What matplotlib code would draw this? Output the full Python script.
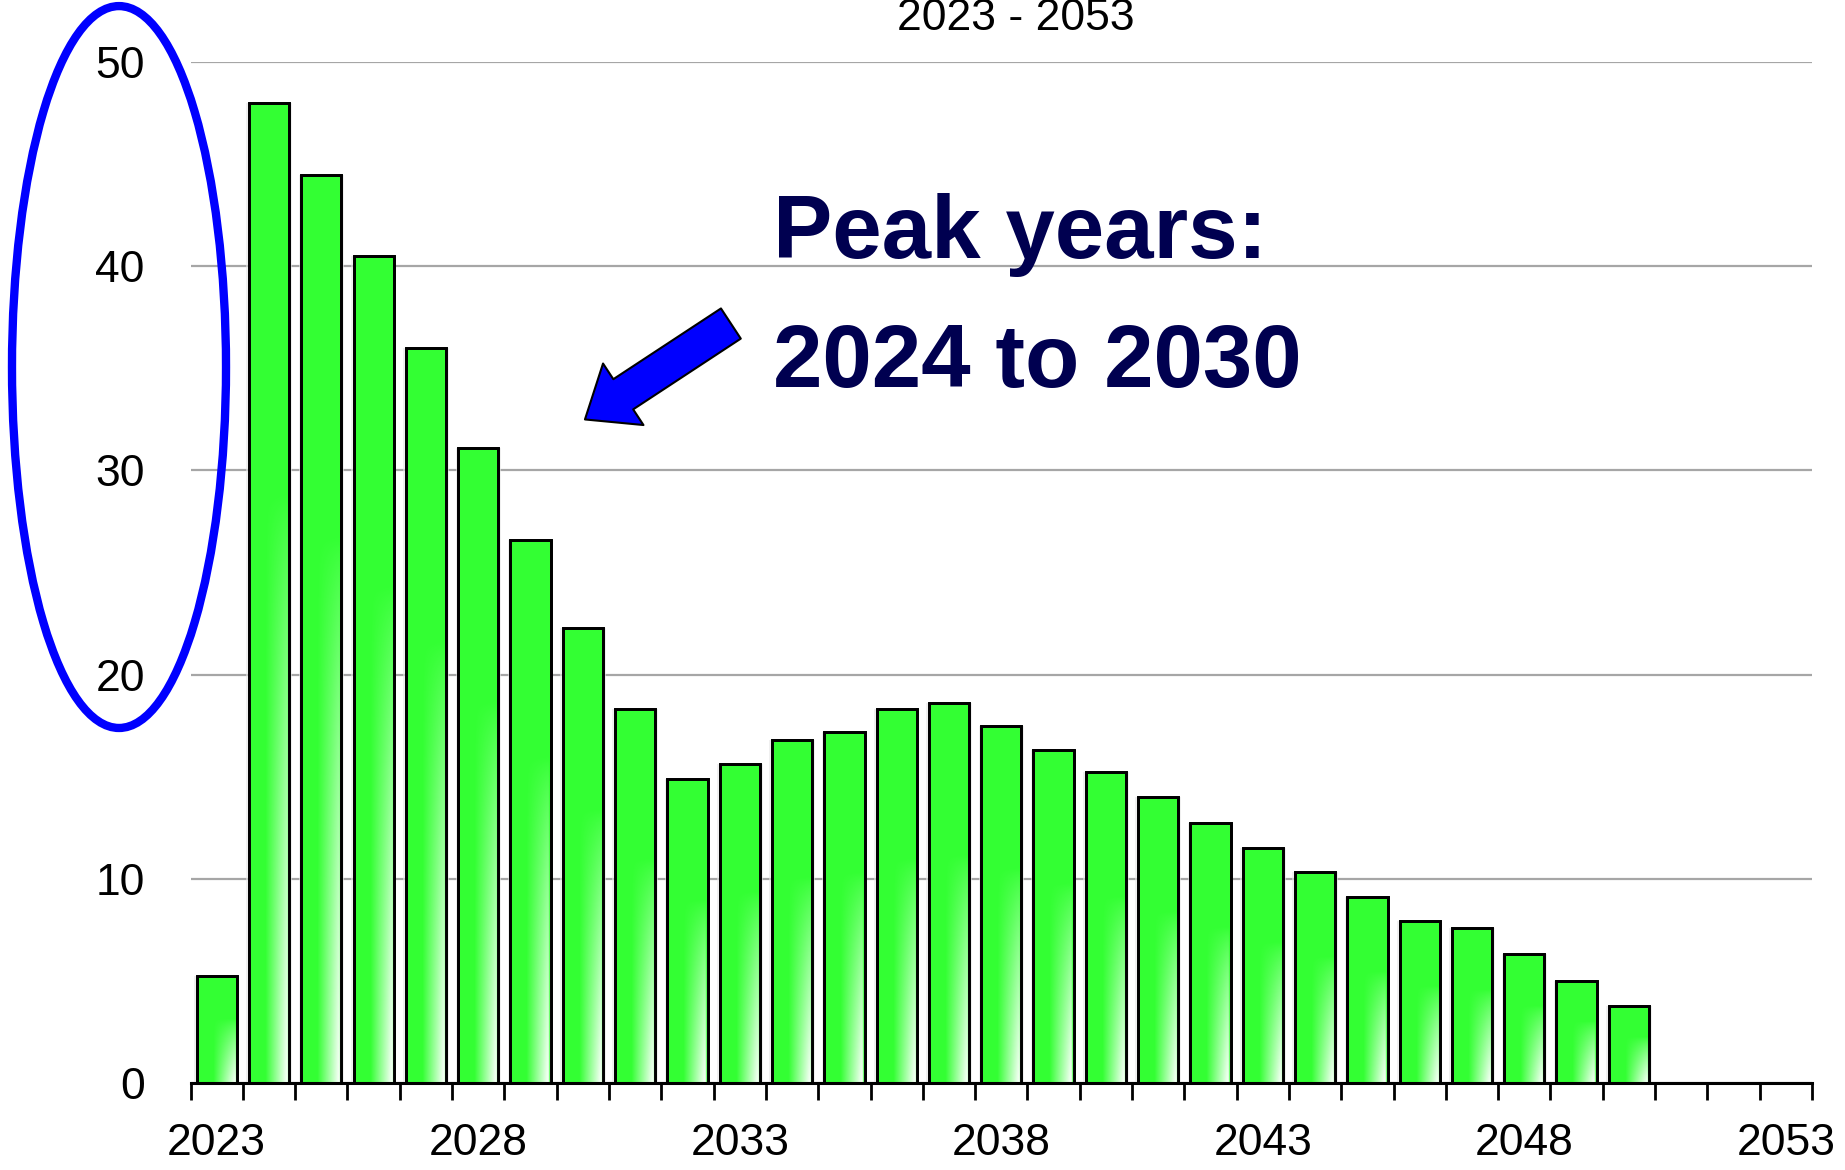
import numpy as np
import matplotlib
matplotlib.use("Agg")
import matplotlib.pyplot as plt
from matplotlib import patches

years = list(range(2023, 2054))
values = [5.2, 48.0, 44.5, 40.5, 36.0, 31.1, 26.6, 22.3, 18.3, 14.9,
          15.6, 16.8, 17.2, 18.3, 18.6, 17.5, 16.3, 15.2, 14.0, 12.7,
          11.5, 10.3, 9.1, 7.9, 7.6, 6.3, 5.0, 3.75, 0, 0, 0]
label_years = [2023, 2028, 2033, 2038, 2043, 2048, 2053]
y_ticks = [0, 10, 20, 30, 40, 50]
title_text = "2023 - 2053"
note_line1 = "Peak years:"
note_line2 = "2024 to 2030"

plt.rcParams['font.family'] = ['Liberation Sans', 'DejaVu Sans']

fig = plt.figure(figsize=(18.45, 11.7), dpi=100)
ax = fig.add_axes([0.1033, 0.0747, 0.8788, 0.872])

x = np.arange(len(years)) + 0.5
bw = 0.77

# soft shadow behind the bars
ax.bar(x, values, width=bw + 0.1, color='#e6e6e6', alpha=0.6, zorder=1, linewidth=0)
bars = ax.bar(x, values, width=bw, color='#33ff33', edgecolor='black', linewidth=2, zorder=3)

# white gradient in the lower right of each bar
nx, ny = 60, 120
xf = np.linspace(0, 1, nx)[None, :]
yf = np.linspace(1, 0, ny)[:, None]
alpha = np.clip((xf - 0.4) / 0.52, 0, 1) * np.clip((0.6 - yf) / 0.6, 0, 1) ** 0.8
alpha = np.where(xf > 0.96, alpha * 0.3, alpha)
grad = np.ones((ny, nx, 4))
grad[..., 3] = alpha * 0.95
for b in bars:
    h = b.get_height()
    if h <= 0:
        continue
    x0 = b.get_x()
    im = ax.imshow(grad, extent=[x0, x0 + b.get_width(), 0, h], aspect='auto',
                   zorder=3.5, interpolation='bilinear')
    im.set_clip_path(b)
    # outline again on top of the gradient
    ax.add_patch(patches.Rectangle((x0, 0), b.get_width(), h, fill=False,
                                   edgecolor='black', linewidth=2, zorder=4))

ax.set_xlim(0, len(years))
ax.set_ylim(0, 50)
ax.set_yticks(y_ticks)
ax.set_yticklabels([str(v) for v in y_ticks], fontsize=32)
ax.tick_params(axis='y', length=0, pad=33)
ax.yaxis.grid(True, color='#a6a6a6', linewidth=1.6, zorder=0)
ax.set_axisbelow(True)

ax.set_xticks(np.arange(len(years) + 1))
ax.set_xticklabels([])
ax.tick_params(axis='x', which='major', length=12, width=2, color='black', direction='out')
ax.set_xticks([years.index(y) + 0.5 for y in label_years], minor=True)
ax.set_xticklabels([str(y) for y in label_years], minor=True, fontsize=32)
ax.tick_params(axis='x', which='minor', length=0, pad=29)

for s in ['left', 'right', 'top']:
    ax.spines[s].set_visible(False)
ax.spines['bottom'].set_linewidth(2.2)
ax.spines['bottom'].set_zorder(5)

fig.text(0.5507, 0.9745, title_text, fontsize=32, ha='center', va='baseline')

ax.text(11.14, 40.4, note_line1, fontsize=64, fontweight='bold', color='#000050',
        ha='left', va='baseline', zorder=6)
ax.text(11.14, 34.1, note_line2, fontsize=64, fontweight='bold', color='#000050',
        ha='left', va='baseline', zorder=6)

ax.annotate('', xy=(7.54, 32.5), xytext=(10.33, 37.2),
            arrowprops=dict(arrowstyle='simple,head_length=33,head_width=53,tail_width=26',
                            mutation_scale=1, fc='#0000ff', ec='black', lw=1.5,
                            shrinkA=0, shrinkB=0), zorder=6)

fig.add_artist(patches.Ellipse((0.0645, 0.6863), 0.116, 0.617, transform=fig.transFigure,
                               fill=False, edgecolor='#0000ff', linewidth=6))

fig.savefig("out.png", dpi=100)
